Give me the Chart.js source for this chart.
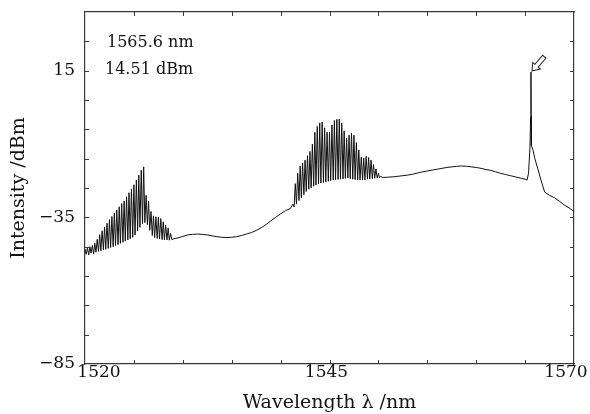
<!DOCTYPE html>
<html>
<head>
<meta charset="utf-8">
<script src="https://cdn.jsdelivr.net/npm/chart.js@4.4.1/dist/chart.umd.min.js"></script>
<style>
    html, body { margin: 0; padding: 0; background: #fff; }
    #spectrum { display: block; }
</style>
</head>
<body>
<canvas id="spectrum" width="590" height="414"></canvas>
<script>
// 軸の目盛
const xLabels = [1520, 1545, 1570];
const yLabels = [-85, -35, 15];
const xMinor = [1525, 1530, 1535, 1540, 1545, 1550, 1555, 1560, 1565];
const yMinor = [-75, -65, -55, -45, -35, -25, -15, -5, 5, 15, 25];

// ピーク（矢印と注記）
const peakWl = 1565.6;
const peakDb = 14.51;

// 1520〜1529 nm のくし形スペクトル
const comb1Wl = [
    1520.00, 1520.12, 1520.25, 1520.38, 1520.50, 1520.62, 1520.75, 1520.88,
    1521.00, 1521.12, 1521.25, 1521.38, 1521.50, 1521.62, 1521.75, 1521.88,
    1522.00, 1522.12, 1522.25, 1522.38, 1522.50, 1522.62, 1522.75, 1522.88,
    1523.00, 1523.12, 1523.25, 1523.38, 1523.50, 1523.62, 1523.75, 1523.88,
    1524.00, 1524.12, 1524.25, 1524.38, 1524.50, 1524.62, 1524.75, 1524.88,
    1525.00, 1525.12, 1525.25, 1525.38, 1525.50, 1525.62, 1525.75, 1525.88,
    1526.00, 1526.12, 1526.25, 1526.38, 1526.50, 1526.62, 1526.75, 1526.88,
    1527.00, 1527.12, 1527.25, 1527.38, 1527.50, 1527.62, 1527.75, 1527.88,
    1528.00, 1528.12, 1528.25, 1528.38, 1528.50, 1528.62, 1528.75, 1528.88
];
const comb1Db = [
    -45.8, -47.6, -45.5, -47.8, -45.0, -47.2, -44.6, -47.5,
    -43.8, -46.9, -42.5, -46.6, -40.9, -46.4, -39.6, -46.1,
    -38.3, -45.9, -37.0, -45.6, -35.8, -45.3, -34.7, -45.0,
    -33.6, -44.6, -32.5, -44.3, -31.4, -43.9, -30.3, -43.5,
    -29.4, -43.1, -28.0, -42.7, -26.6, -42.3, -25.3, -41.8,
    -23.9, -41.0, -22.3, -39.6, -20.6, -38.4, -18.9, -37.2,
    -17.8, -36.8, -27.5, -37.5, -29.5, -39.4, -33.0, -41.2,
    -34.5, -41.9, -34.8, -42.2, -35.0, -42.4, -35.4, -42.6,
    -36.5, -42.7, -37.6, -42.7, -38.6, -42.8, -40.5, -42.6
];

// 1529〜1541 nm のなだらかな部分
const base1Wl = [
    1529.0, 1529.5, 1530.0, 1530.5, 1531.0, 1531.5, 1532.0, 1532.5, 1533.0,
    1533.5, 1534.0, 1534.5, 1535.0, 1535.5, 1536.0, 1536.5, 1537.0, 1537.5,
    1538.0, 1538.5, 1539.0, 1539.5, 1540.0, 1540.5, 1541.0
];
const base1Db = [
    -42.4, -42.0, -41.5, -41.0, -40.8, -40.7, -40.8, -41.0, -41.3,
    -41.6, -41.8, -41.9, -41.8, -41.6, -41.2, -40.7, -40.2, -39.5,
    -38.6, -37.5, -36.2, -35.0, -33.8, -32.7, -32.0
];

// 1541〜1550.5 nm のくし形スペクトル
const comb2Wl = [
    1541.25, 1541.38, 1541.50, 1541.62, 1541.75, 1541.88, 1542.00, 1542.12,
    1542.25, 1542.38, 1542.50, 1542.62, 1542.75, 1542.88, 1543.00, 1543.12,
    1543.25, 1543.38, 1543.50, 1543.62, 1543.75, 1543.88, 1544.00, 1544.12,
    1544.25, 1544.38, 1544.50, 1544.62, 1544.75, 1544.88, 1545.00, 1545.12,
    1545.25, 1545.38, 1545.50, 1545.62, 1545.75, 1545.88, 1546.00, 1546.12,
    1546.25, 1546.38, 1546.50, 1546.62, 1546.75, 1546.88, 1547.00, 1547.12,
    1547.25, 1547.38, 1547.50, 1547.62, 1547.75, 1547.88, 1548.00, 1548.12,
    1548.25, 1548.38, 1548.50, 1548.62, 1548.75, 1548.88, 1549.00, 1549.12,
    1549.25, 1549.38, 1549.50, 1549.62, 1549.75, 1549.88, 1550.00, 1550.12,
    1550.25, 1550.38
];
const comb2Db = [
    -30.5, -31.5, -23.5, -30.5, -20.0, -29.3, -17.5, -28.3,
    -16.5, -27.3, -15.5, -26.2, -14.0, -25.4, -12.5, -24.9,
    -10.0, -24.4, -6.0, -24.0, -4.0, -23.6, -2.8, -23.3,
    -2.5, -23.1, -4.5, -22.9, -6.0, -22.7, -6.0, -22.5,
    -3.5, -22.3, -2.0, -22.2, -1.6, -22.1, -1.5, -22.0,
    -2.8, -21.9, -5.5, -21.7, -8.0, -21.6, -7.0, -21.8,
    -6.3, -22.0, -7.0, -22.1, -9.5, -22.2, -12.0, -22.3,
    -14.5, -22.3, -14.8, -22.2, -14.2, -22.0, -14.6, -21.9,
    -15.5, -21.8, -17.0, -21.7, -18.5, -21.6, -20.0, -21.5,
    -21.0, -21.4
];

// 1550.5〜1570 nm（レーザー発振ピークを含む）
const base2Wl = [
    1550.5, 1551.0, 1551.5, 1552.0, 1552.5, 1553.0, 1553.5, 1554.0, 1554.5,
    1555.0, 1555.5, 1556.0, 1556.5, 1557.0, 1557.5, 1558.0, 1558.5, 1559.0,
    1559.5, 1560.0, 1560.5, 1561.0, 1561.5, 1562.0, 1562.5, 1563.0, 1563.5,
    1564.0, 1564.5, 1565.0, 1565.2, 1565.35, 1565.5, 1565.56, peakWl, 1565.62,
    1565.64, 1565.8, 1566.0, 1566.3, 1566.6, 1567.0, 1567.5, 1568.0, 1568.5,
    1569.0, 1569.5, 1570.0
];
const base2Db = [
    -21.4, -21.3, -21.2, -21.0, -20.8, -20.6, -20.3, -19.9, -19.5,
    -19.2, -18.9, -18.6, -18.3, -18.0, -17.8, -17.6, -17.5, -17.6,
    -17.8, -18.0, -18.3, -18.7, -19.0, -19.5, -20.0, -20.4, -20.8,
    -21.2, -21.6, -22.0, -22.3, -20.0, -11.0, -1.0, peakDb, -0.5,
    -10.5, -12.0, -15.0, -18.5, -22.0, -26.4, -27.5, -28.3, -29.5,
    -30.8, -31.8, -33.0
];

const allWl = [...comb1Wl, ...base1Wl, ...comb2Wl, ...base2Wl];
const allDb = [...comb1Db, ...base1Db, ...comb2Db, ...base2Db];
const spectrum = allWl.map((w, i) => ({ x: w, y: allDb[i] }));

const SERIF = '"DejaVu Serif", "Liberation Serif", serif';
const frameColor = '#3a3a3a';

// 目盛ラベルのはみ出し分の余白を付けない
function noEdgePadding(s) {
    s.paddingLeft = 0;
    s.paddingRight = 0;
    s.paddingTop = 0;
    s.paddingBottom = 0;
}

// 内向きの小目盛・x軸ラベル・矢印・注記
const decorPlugin = {
    id: 'decor',
    afterDraw(chart) {
        const ctx = chart.ctx;
        const xs = chart.scales.x;
        const ys = chart.scales.y;
        const area = chart.chartArea;

        ctx.save();
        ctx.strokeStyle = frameColor;
        ctx.lineWidth = 1;
        ctx.beginPath();
        xMinor.forEach(v => {
            const px = Math.round(xs.getPixelForValue(v)) + 0.5;
            ctx.moveTo(px, area.bottom);
            ctx.lineTo(px, area.bottom - 4);
            ctx.moveTo(px, area.top);
            ctx.lineTo(px, area.top + 4);
        });
        yMinor.forEach(v => {
            const py = Math.round(ys.getPixelForValue(v)) + 0.5;
            ctx.moveTo(area.left, py);
            ctx.lineTo(area.left + 4, py);
            ctx.moveTo(area.right, py);
            ctx.lineTo(area.right - 4, py);
        });
        ctx.stroke();

        // x軸の数値：両端は枠の内側寄りにずらす
        ctx.fillStyle = '#111';
        ctx.font = '17px ' + SERIF;
        ctx.textBaseline = 'middle';
        xLabels.forEach((v, i) => {
            const px = xs.getPixelForValue(v);
            let shift = -3;
            if (i === 0) shift = 14;
            if (i === xLabels.length - 1) shift = -8;
            ctx.textAlign = 'center';
            ctx.fillText(String(v), px + shift, area.bottom + 9);
        });

        // ピークを指す白抜き矢印
        const tipX = xs.getPixelForValue(peakWl) + 1;
        const tipY = ys.getPixelForValue(peakDb) - 1;
        ctx.translate(tipX, tipY);
        ctx.rotate(Math.atan2(14, -12));
        ctx.beginPath();
        ctx.moveTo(0, 0);
        ctx.lineTo(-7, -5);
        ctx.lineTo(-7, -2.2);
        ctx.lineTo(-19, -2.2);
        ctx.lineTo(-19, 2.2);
        ctx.lineTo(-7, 2.2);
        ctx.lineTo(-7, 5);
        ctx.closePath();
        ctx.fillStyle = '#fff';
        ctx.fill();
        ctx.strokeStyle = '#222';
        ctx.lineWidth = 1;
        ctx.stroke();
        ctx.restore();

        ctx.save();
        ctx.fillStyle = '#111';
        ctx.font = '16px ' + SERIF;
        ctx.textAlign = 'left';
        ctx.textBaseline = 'middle';
        ctx.fillText(peakWl.toFixed(1) + ' nm', area.left + 22, area.top + 31);
        ctx.fillText(peakDb.toFixed(2) + ' dBm', area.left + 20, area.top + 58);
        ctx.restore();
    }
};

const borderOpts = { display: true, color: frameColor, width: 1.2, dash: [3, 1.5] };

new Chart(document.getElementById('spectrum'), {
    type: 'line',
    data: {
        datasets: [{
            data: spectrum,
            borderColor: '#111',
            borderWidth: 1,
            pointRadius: 0,
            tension: 0,
            fill: false
        }]
    },
    options: {
        responsive: false,
        animation: false,
        layout: { padding: { top: 12, right: 16, left: 0, bottom: 0 } },
        plugins: {
            legend: { display: false },
            tooltip: { enabled: false }
        },
        scales: {
            x: {
                type: 'linear',
                position: 'bottom',
                min: 1520,
                max: 1570,
                grid: { display: false, drawTicks: false },
                border: borderOpts,
                afterBuildTicks: s => { s.ticks = xLabels.map(v => ({ value: v })); },
                afterFit: s => { s.height = 50; noEdgePadding(s); },
                ticks: { display: false },
                title: {
                    display: true,
                    text: 'Wavelength λ /nm',
                    color: '#111',
                    padding: { top: 0, bottom: 0 },
                    font: { family: SERIF, size: 19 }
                }
            },
            x2: {
                type: 'linear',
                position: 'top',
                min: 1520,
                max: 1570,
                grid: { display: false, drawTicks: false },
                border: borderOpts,
                ticks: { display: false },
                afterFit: s => { s.height = 0; noEdgePadding(s); }
            },
            y: {
                type: 'linear',
                position: 'left',
                min: -85,
                max: 35,
                grid: { display: false, drawTicks: false },
                border: borderOpts,
                afterBuildTicks: s => { s.ticks = yLabels.map(v => ({ value: v })); },
                afterFit: s => { s.width = 85; noEdgePadding(s); },
                ticks: {
                    color: '#111',
                    padding: 10,
                    font: { family: SERIF, size: 17 },
                    callback: v => String(v).replace('-', '\u2212')
                },
                title: {
                    display: true,
                    text: 'Intensity /dBm',
                    color: '#111',
                    padding: { top: 8, bottom: 0 },
                    font: { family: SERIF, size: 19 }
                }
            },
            y2: {
                type: 'linear',
                position: 'right',
                min: -85,
                max: 35,
                grid: { display: false, drawTicks: false },
                border: borderOpts,
                ticks: { display: false },
                afterFit: s => { s.width = 0; noEdgePadding(s); }
            }
        }
    },
    plugins: [decorPlugin]
});
</script>
</body>
</html>
